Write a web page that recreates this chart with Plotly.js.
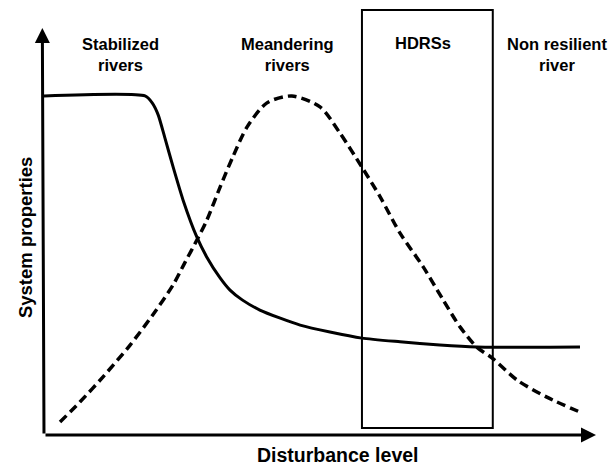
<!DOCTYPE html>
<html>
<head>
<meta charset="utf-8">
<script src="https://cdn.plot.ly/plotly-3.0.1.min.js"></script>
<style>html,body{margin:0;padding:0;background:#fff;}#chart{width:613px;height:468px;}</style>
</head>
<body>
<div id="chart"></div>
<script>
// Solid curve: system properties of stabilized rivers
const solidX = [0, 1.83, 1.96, 2.07, 2.19, 2.34, 2.52, 2.77, 2.95, 3.19, 3.37, 3.59, 3.91, 4.28, 4.64, 5.18, 5.76, 6.45, 7.17, 7.84, 9.71];
const solidY = [8.33, 8.33, 8.16, 7.86, 7.30, 6.58, 5.77, 4.86, 4.37, 3.86, 3.56, 3.32, 3.07, 2.87, 2.70, 2.53, 2.38, 2.29, 2.21, 2.16, 2.16];
// Dashed curve: meandering rivers
const dashX = [0.29, 0.65, 1.07, 1.56, 1.97, 2.34, 2.55, 2.77, 2.95, 3.19, 3.42, 3.68, 4.04, 4.49, 5.00, 5.36, 5.76, 6.09, 6.45, 6.87, 7.23, 7.54, 7.84, 8.12, 8.57, 9.11, 9.75];
const dashY = [0.32, 0.81, 1.43, 2.21, 2.95, 3.69, 4.23, 4.79, 5.28, 6.09, 6.83, 7.57, 8.16, 8.33, 8.06, 7.42, 6.58, 5.85, 4.96, 4.13, 3.32, 2.65, 2.16, 1.89, 1.35, 0.93, 0.54];
// Zone labels
const zoneLabels = ["Stabilized<br>rivers", "Meandering<br>rivers", "HDRSs", "Non resilient<br>river"];
const zoneX = [1.39, 4.42, 6.87, 9.29];
const zoneY = [9.34, 9.34, 9.63, 9.34];
// HDRSs box extent
const boxX = [5.76, 8.13];
const boxY = [0.17, 10.44];
const xTitle = "Disturbance level";
const yTitle = "System properties";

const traces = [
  {x: solidX, y: solidY, mode: 'lines', line: {color: '#000', width: 3, shape: 'spline', smoothing: 0.6}, hoverinfo: 'skip', showlegend: false},
  {x: dashX, y: dashY, mode: 'lines', line: {color: '#000', width: 3.5, dash: '9px,5px', shape: 'spline', smoothing: 0.8}, hoverinfo: 'skip', showlegend: false}
];

const headFont = {family: 'Liberation Sans, Arial, sans-serif', size: 16.5, color: '#000'};
const annotations = zoneLabels.map((t, i) => ({
  x: zoneX[i], y: zoneY[i], xref: 'x', yref: 'y', text: '<b>' + t + '</b>', showarrow: false,
  font: headFont, align: 'center'
}));
// axis arrows
annotations.push({x: 10, y: 0, ax: 0, ay: 0, xref: 'x', yref: 'y', axref: 'x', ayref: 'y', text: '', showarrow: true, arrowhead: 2, arrowsize: 1, arrowwidth: 3, arrowcolor: '#000'});
annotations.push({x: -0.03, y: 10, ax: 0, ay: 0, xref: 'x', yref: 'y', axref: 'x', ayref: 'y', text: '', showarrow: true, arrowhead: 2, arrowsize: 1, arrowwidth: 3, arrowcolor: '#000'});
// axis titles (paper coordinates, outside the plotting area)
annotations.push({x: 0.531, y: -0.0465, xref: 'paper', yref: 'paper', xanchor: 'center', yanchor: 'middle', text: '<b>' + xTitle + '</b>', showarrow: false, font: {family: 'Liberation Sans, Arial, sans-serif', size: 19.5, color: '#000'}});
annotations.push({x: -0.0344, y: 0.458, xref: 'paper', yref: 'paper', xanchor: 'center', yanchor: 'middle', text: '<b>' + yTitle + '</b>', showarrow: false, textangle: -90, font: {family: 'Liberation Sans, Arial, sans-serif', size: 18.5, color: '#000'}});

const layout = {
  width: 613, height: 468,
  margin: {l: 44, r: 17, t: 5, b: 33},
  paper_bgcolor: '#fff', plot_bgcolor: '#fff',
  showlegend: false,
  xaxis: {range: [0, 10], visible: false, fixedrange: true},
  yaxis: {range: [0, 10.565], visible: false, fixedrange: true},
  shapes: [{type: 'rect', xref: 'x', yref: 'y', x0: boxX[0], x1: boxX[1], y0: boxY[0], y1: boxY[1], line: {color: '#000', width: 2}, fillcolor: 'rgba(0,0,0,0)'}],
  annotations: annotations
};
Plotly.newPlot('chart', traces, layout, {displayModeBar: false, staticPlot: true});
</script>
</body>
</html>
